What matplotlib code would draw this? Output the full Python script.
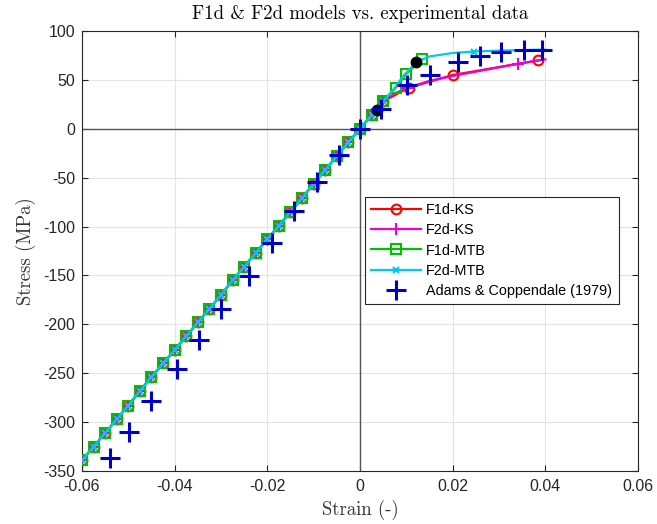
import matplotlib
matplotlib.use("Agg")
import matplotlib.pyplot as plt

plt.rcParams['axes.unicode_minus'] = False

# elastic branch shared by all four models (stress steps of ~14 MPa)
lin_strain = [-0.060, -0.0575, -0.055, -0.0525, -0.050, -0.0475, -0.045, -0.0425,
              -0.040, -0.0375, -0.035, -0.0325, -0.030, -0.0275, -0.025, -0.0225,
              -0.020, -0.0175, -0.015, -0.0125, -0.010, -0.0075, -0.005, -0.0025,
              0.000, 0.0025, 0.005]
lin_stress = [-339, -325, -311, -297, -283, -268, -254, -240,
              -226, -212, -198, -184, -170, -155, -141, -127,
              -113, -99, -85, -71, -56, -42, -28, -14,
              0, 14, 28]

# post-yield branches
f1d_ks_strain = [0.0105, 0.020, 0.0385]
f1d_ks_stress = [42, 55, 70]

f2d_ks_strain = [0.0075, 0.0102, 0.015, 0.020, 0.0256, 0.0341, 0.040]
f2d_ks_stress = [36, 42, 49, 54, 59, 66.5, 71]
f2d_ks_marked = [0.0102, 0.0341]

f1d_mtb_strain = [0.0077, 0.0099, 0.0134]
f1d_mtb_stress = [42, 56, 71]

f2d_mtb_strain = [0.0075, 0.0095, 0.0122, 0.015, 0.020, 0.0246, 0.030, 0.035, 0.040]
f2d_mtb_stress = [42, 55, 68, 74, 77.5, 79, 80, 80.5, 81]
f2d_mtb_marked = [0.0246]

# yield points
yield_strain = [0.0036, 0.0122]
yield_stress = [19.5, 68]

# Adams & Coppendale (1979)
exp_strain = [-0.0539, -0.0498, -0.0450, -0.0394, -0.0347, -0.0300, -0.0239, -0.0190,
              -0.0142, -0.0093, -0.0045, 0.0, 0.0045, 0.0102, 0.0152, 0.0212,
              0.0260, 0.0304, 0.0353, 0.0393]
exp_stress = [-336.5, -309.8, -278.4, -245.9, -216.2, -183.8, -150.3, -117.2,
              -84.4, -54.0, -26.3, 0.0, 20.5, 44.4, 54.6, 68.0,
              74.0, 79.0, 81.0, 81.0]

xticks = [-0.06, -0.04, -0.02, 0, 0.02, 0.04, 0.06]
xticklabels = ['-0.06', '-0.04', '-0.02', '0', '0.02', '0.04', '0.06']
yticks = [-350, -300, -250, -200, -150, -100, -50, 0, 50, 100]

AX_COL = '#262626'


def marks(xs, picked):
    return [i for i, v in enumerate(xs) if i < len(lin_strain) or v in picked]


fig = plt.figure(figsize=(6.57, 5.24), dpi=100)
ax = fig.add_axes([0.1248, 0.1011, 0.8462, 0.8397])

ax.axvline(0, color='#555555', lw=1.0, zorder=1)
ax.axhline(0, color='#555555', lw=1.0, zorder=1)

x = lin_strain + f1d_ks_strain
y = lin_stress + f1d_ks_stress
ax.plot(x, y, '-o', color='#ff0000', lw=1.6, ms=7, mfc='none', mew=1.5,
        label='F1d-KS', zorder=3)

x = lin_strain + f2d_ks_strain
y = lin_stress + f2d_ks_stress
ax.plot(x, y, '-+', color='#f000d0', lw=1.6, ms=8, mew=1.5,
        markevery=marks(x, f2d_ks_marked), label='F2d-KS', zorder=4)

x = lin_strain + f1d_mtb_strain
y = lin_stress + f1d_mtb_stress
ax.plot(x, y, '-s', color='#00c000', lw=1.6, ms=7, mfc='none', mew=1.5,
        label='F1d-MTB', zorder=5)

x = lin_strain + f2d_mtb_strain
y = lin_stress + f2d_mtb_stress
ax.plot(x, y, '-x', color='#00c8ee', lw=1.6, ms=5, mew=1.5,
        markevery=marks(x, f2d_mtb_marked), label='F2d-MTB', zorder=6)

ax.plot(yield_strain, yield_stress, 'o', color='black', ms=7.5, zorder=7)

ax.plot(exp_strain, exp_stress, '+', color='#0000c8', ms=15, mew=2.2,
        ls='none', label='Adams & Coppendale (1979)', zorder=8)

ax.set_xlim(-0.06, 0.06)
ax.set_ylim(-350, 100)
ax.set_xticks(xticks)
ax.set_xticklabels(xticklabels)
ax.set_yticks(yticks)
ax.set_yticklabels([str(v) for v in yticks])
ax.tick_params(direction='in', length=4, width=0.8, top=True, right=True,
               labelsize=11.5, colors=AX_COL)
ax.tick_params(axis='x', pad=6)
ax.tick_params(axis='y', pad=5)
for lab in ax.get_xticklabels() + ax.get_yticklabels():
    lab.set_family('Liberation Sans')
for sp in ax.spines.values():
    sp.set_color(AX_COL)
    sp.set_linewidth(0.8)
ax.grid(True, color='#e3e3e3', lw=0.8)
ax.set_axisbelow(True)

ax.set_title('F1d & F2d models vs. experimental data', family='cmr10',
             fontsize=13.5, color='black', pad=8.5)
ax.set_xlabel('Strain (-)', family='cmr10', fontsize=13.5, color='#333333', labelpad=4)
ax.set_ylabel('Stress (MPa)', family='cmr10', fontsize=13.5, color='#333333', labelpad=5)

leg = ax.legend(loc='upper left', bbox_to_anchor=(0.509, 0.623), fancybox=False,
                edgecolor=AX_COL, framealpha=1, handlelength=3.45, borderaxespad=0,
                prop={'family': 'Liberation Sans', 'size': 10.4},
                borderpad=0.45, labelspacing=0.42, handletextpad=0.35)
leg.get_frame().set_linewidth(0.8)

fig.savefig('out.png', dpi=100)
